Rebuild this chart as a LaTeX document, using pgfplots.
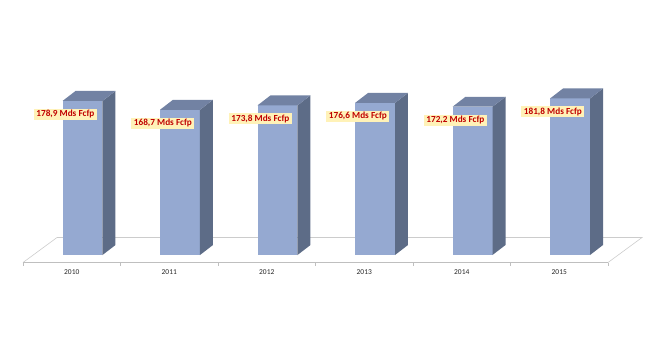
\documentclass[border=0pt]{standalone}
\usepackage{pgfplots}
\pgfplotsset{compat=1.18}
\usepackage{pgfplotstable}
\usepackage{fontspec}
\setmainfont{Carlito}
\definecolor{frontc}{HTML}{95A9D1}
\definecolor{sidec}{HTML}{5D6C87}
\definecolor{topc}{HTML}{7282A3}
\definecolor{lblfill}{HTML}{FFF2B8}
\definecolor{lbltext}{HTML}{C00000}
\definecolor{floorc}{HTML}{BFBFBF}

\pgfplotstableread{
idx year value
0 2010 178.9
1 2011 168.7
2 2012 173.8
3 2013 176.6
4 2014 172.2
5 2015 181.8
}\data

\begin{document}
\begin{tikzpicture}
\begin{axis}[
  x=97.5bp, y=0.861bp,
  xmin=-0.7359, xmax=5.9615, ymin=-105.1, ymax=304.9,
  enlargelimits=false, clip=false,
  axis x line=middle, axis y line=none,
  x axis line style={draw=none,-},
  xtick={0,1,2,3,4,5},
  xticklabels from table={\data}{year},
  minor xtick={-0.5,0.5,1.5,2.5,3.5,4.5,5.5},
  major tick length=0pt, minor tick length=3bp, tick align=outside,
  minor tick style={floorc},
  major tick style={draw=none},
  xticklabel style={font=\fontsize{7.5}{8}\selectfont, text=black!85, yshift=-4bp},
  /pgf/number format/assume math mode=true,
]
\path (rel axis cs:0,0) rectangle (rel axis cs:1,1);
% floor
\addplot[draw=floorc!80, line width=0.6bp] coordinates {(-0.5,0) (-0.1513,29.04) (5.8487,29.04) (5.5,0)};
\addplot[draw=floorc, line width=1.3bp] coordinates {(-0.5,0) (5.5,0)};
% bars
\pgfplotsinvokeforeach{0,1,2,3,4,5}{
  \pgfplotstablegetelem{#1}{value}\of\data
  \pgfmathsetmacro\bxa{#1+0.1103-0.205}
  \pgfmathsetmacro\bxb{#1+0.1103+0.205}
  \pgfmathsetmacro\bxc{\bxb+0.1333}
  \pgfmathsetmacro\bxd{\bxa+0.1333}
  \pgfmathsetmacro\bya{8.71}
  \pgfmathsetmacro\byb{8.71+\pgfplotsretval}
  \pgfmathsetmacro\byc{8.71+11.61}
  \pgfmathsetmacro\byd{\byb+11.61}
  \edef\barcmd{%
    \noexpand\addplot[fill=frontc, draw=none] coordinates {(\bxa,\bya) (\bxb,\bya) (\bxb,\byb) (\bxa,\byb)} --cycle;
    \noexpand\addplot[fill=sidec, draw=none] coordinates {(\bxb,\bya) (\bxc,\byc) (\bxc,\byd) (\bxb,\byb)} --cycle;
    \noexpand\addplot[fill=topc, draw=none] coordinates {(\bxa,\byb) (\bxb,\byb) (\bxc,\byd) (\bxd,\byd)} --cycle;
  }
  \barcmd
}
% labels
\addplot[draw=none, mark=none, point meta=explicit,
  nodes near coords={\pgfmathprintnumber[fixed,fixed zerofill,precision=1,use comma]{\pgfplotspointmeta}~Mds Fcfp},
  nodes near coords style={anchor=center, fill=lblfill, text=lbltext,
    font=\bfseries\fontsize{9.3}{10}\selectfont, inner xsep=2.5bp, inner ysep=1.6bp}]
  table[x expr=\thisrow{idx}-0.065, y expr=\thisrow{value}+8.71-15.5, meta=value] {\data};
\end{axis}
\end{tikzpicture}
\end{document}
